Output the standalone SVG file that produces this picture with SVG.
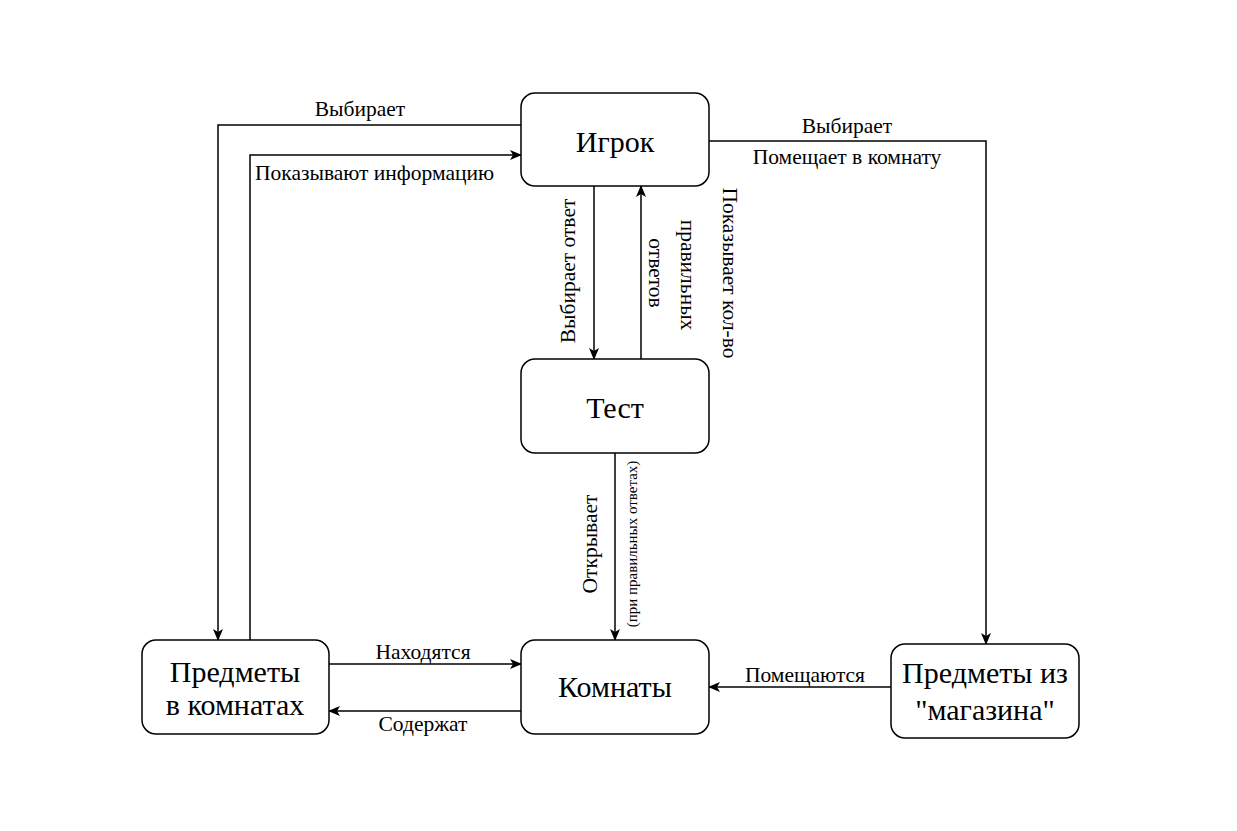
<svg xmlns="http://www.w3.org/2000/svg" width="1237" height="831" viewBox="0 0 1237 831">
<defs>
<marker id="arr" viewBox="0 0 12 10" refX="11" refY="5" markerWidth="12" markerHeight="10" markerUnits="userSpaceOnUse" orient="auto">
<path d="M0,0 L12,5 L0,10 L3,5 Z" fill="#000"/>
</marker>
<style>
.node{fill:#fff;stroke:#000;stroke-width:1.5}
.nt{font-family:"Liberation Serif","Times New Roman",serif;font-size:30px;text-anchor:middle;fill:#000}
.lb{font-family:"Liberation Serif","Times New Roman",serif;font-size:21.5px;text-anchor:middle;fill:#000}
.sm{font-family:"Liberation Serif","Times New Roman",serif;font-size:15px;text-anchor:middle;fill:#000}
.e{fill:none;stroke:#000;stroke-width:1.5;marker-end:url(#arr)}
</style>
</defs>
<rect width="1237" height="831" fill="#fff"/>
<g id="connectors">
<path class="e" d="M521,125 H218 V640"/>
<path class="e" d="M250,640 V155 H521"/>
<path class="e" d="M709,141 H986 V644"/>
<path class="e" d="M594,186 V359"/>
<path class="e" d="M641,359 V186"/>
<path class="e" d="M615,453 V640"/>
<path class="e" d="M329,664 H521"/>
<path class="e" d="M521,711 H329"/>
<path class="e" d="M891,687 H709"/>
<text class="lb" x="360" y="116">Выбирает</text>
<text class="lb" x="255" y="180" style="text-anchor:start">Показывают информацию</text>
<text class="lb" x="847" y="133">Выбирает</text>
<text class="lb" x="847" y="164">Помещает в комнату</text>
<text class="lb" transform="translate(575,271) rotate(-90)">Выбирает ответ</text>
<text class="lb" transform="translate(723,273) rotate(90)">Показывает кол-во</text>
<text class="lb" transform="translate(681,275) rotate(90)">правильных</text>
<text class="lb" transform="translate(649,273) rotate(90)">ответов</text>
<text class="lb" transform="translate(597,544) rotate(-90)">Открывает</text>
<text class="sm" transform="translate(637,544) rotate(-90)">(при правильных ответах)</text>
<text class="lb" x="423" y="659">Находятся</text>
<text class="lb" x="423" y="731">Содержат</text>
<text class="lb" x="805" y="682">Помещаются</text>
</g>
<g id="igrok">
<rect class="node" x="521" y="93" width="188" height="93" rx="14"/>
<text class="nt" x="615" y="152">Игрок</text>
</g>
<g id="test">
<rect class="node" x="521" y="359" width="188" height="94" rx="14"/>
<text class="nt" x="615" y="418">Тест</text>
</g>
<g id="komnaty">
<rect class="node" x="521" y="640" width="188" height="94" rx="14"/>
<text class="nt" x="615" y="697">Комнаты</text>
</g>
<g id="predmety-v-komnatah">
<rect class="node" x="142" y="640" width="187" height="94" rx="14"/>
<text class="nt" x="235" y="682">Предметы</text>
<text class="nt" x="235" y="715">в комнатах</text>
</g>
<g id="predmety-magazina">
<rect class="node" x="891" y="644" width="188" height="94" rx="14"/>
<text class="nt" x="985" y="683">Предметы из</text>
<text class="nt" x="985" y="720">"магазина"</text>
</g>
</svg>
